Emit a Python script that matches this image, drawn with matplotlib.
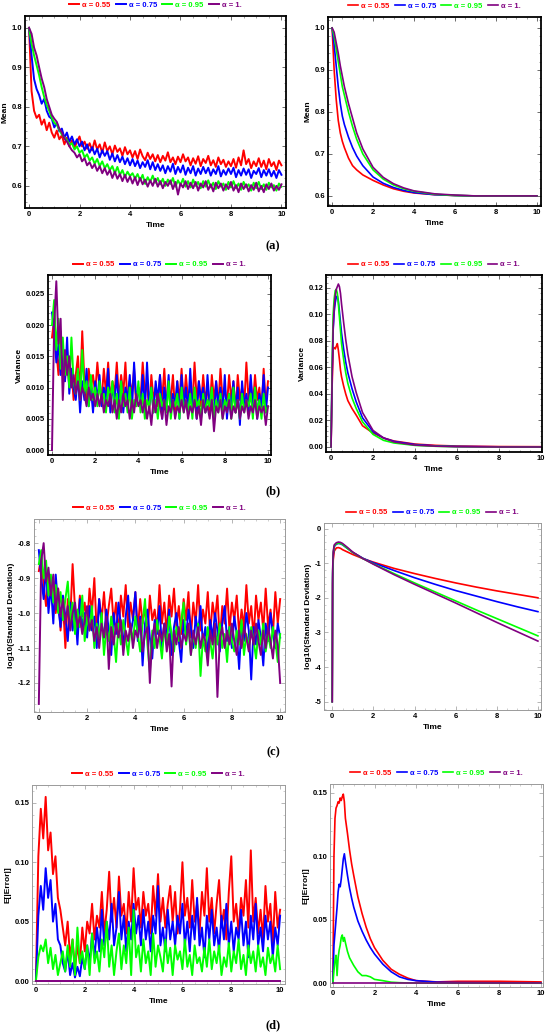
import numpy as np
import matplotlib
matplotlib.use("Agg")
import matplotlib.pyplot as plt
from matplotlib.ticker import AutoMinorLocator

plt.rcParams["font.family"] = ["Liberation Sans", "DejaVu Sans"]
plt.rcParams["axes.unicode_minus"] = False

# ---- data ----
labels = ["\u03b1 = 0.55", "\u03b1 = 0.75", "\u03b1 = 0.95", "\u03b1 = 1."]
colors = ["#ff0000", "#0000ff", "#00ff00", "#800080"]

t = np.linspace(0, 10, 101)

# (a) simulated mean
mean_red = [1.000, 0.840, 0.790, 0.772, 0.780, 0.755, 0.768, 0.741, 0.760, 0.735, 0.722,
            0.740, 0.718, 0.728, 0.705, 0.722, 0.700, 0.715, 0.696, 0.712, 0.725,
            0.700, 0.712, 0.694, 0.708, 0.690, 0.715, 0.692, 0.705, 0.684, 0.710,
            0.688, 0.700, 0.680, 0.702, 0.686, 0.695, 0.676, 0.698, 0.680, 0.690,
            0.672, 0.688, 0.668, 0.692, 0.675, 0.665, 0.684, 0.668, 0.680, 0.662,
            0.678, 0.660, 0.676, 0.664, 0.685, 0.660, 0.672, 0.655, 0.674, 0.660,
            0.680, 0.662, 0.672, 0.652, 0.670, 0.656, 0.675, 0.650, 0.668, 0.658,
            0.676, 0.652, 0.665, 0.648, 0.672, 0.655, 0.666, 0.648, 0.662, 0.650,
            0.668, 0.646, 0.672, 0.652, 0.690, 0.655, 0.668, 0.645, 0.662, 0.650,
            0.670, 0.648, 0.664, 0.642, 0.668, 0.650, 0.660, 0.640, 0.664, 0.652]
mean_blue = [1.000, 0.930, 0.870, 0.845, 0.830, 0.808, 0.820, 0.790, 0.775, 0.770, 0.748,
             0.760, 0.738, 0.745, 0.722, 0.735, 0.712, 0.725, 0.705, 0.718, 0.700,
             0.712, 0.690, 0.705, 0.684, 0.698, 0.680, 0.694, 0.672, 0.690, 0.676,
             0.688, 0.666, 0.682, 0.662, 0.678, 0.660, 0.674, 0.655, 0.670, 0.652,
             0.668, 0.650, 0.664, 0.645, 0.660, 0.648, 0.665, 0.642, 0.660, 0.640,
             0.655, 0.638, 0.652, 0.632, 0.650, 0.636, 0.656, 0.630, 0.648, 0.634,
             0.652, 0.628, 0.646, 0.632, 0.650, 0.626, 0.644, 0.630, 0.648, 0.632,
             0.646, 0.626, 0.642, 0.630, 0.650, 0.624, 0.640, 0.628, 0.644, 0.630,
             0.646, 0.622, 0.640, 0.626, 0.644, 0.628, 0.642, 0.620, 0.638, 0.630,
             0.645, 0.622, 0.640, 0.626, 0.642, 0.624, 0.638, 0.620, 0.640, 0.628]
mean_green = [1.000, 0.960, 0.930, 0.905, 0.880, 0.850, 0.825, 0.805, 0.790, 0.772, 0.760,
              0.755, 0.742, 0.730, 0.722, 0.716, 0.704, 0.708, 0.692, 0.700, 0.684,
              0.690, 0.672, 0.680, 0.664, 0.672, 0.656, 0.668, 0.650, 0.662, 0.645,
              0.655, 0.640, 0.650, 0.632, 0.648, 0.628, 0.640, 0.622, 0.636, 0.625,
              0.632, 0.618, 0.630, 0.614, 0.628, 0.605, 0.622, 0.610, 0.626, 0.608,
              0.620, 0.604, 0.618, 0.600, 0.616, 0.605, 0.620, 0.598, 0.614, 0.602,
              0.618, 0.598, 0.612, 0.596, 0.616, 0.600, 0.610, 0.594, 0.612, 0.598,
              0.614, 0.596, 0.608, 0.592, 0.612, 0.598, 0.606, 0.590, 0.610, 0.596,
              0.612, 0.594, 0.606, 0.590, 0.610, 0.596, 0.604, 0.588, 0.608, 0.594,
              0.610, 0.592, 0.604, 0.590, 0.608, 0.596, 0.602, 0.588, 0.606, 0.598]
mean_purple = [1.000, 0.985, 0.950, 0.930, 0.900, 0.872, 0.850, 0.820, 0.800, 0.780, 0.770,
               0.762, 0.745, 0.735, 0.720, 0.712, 0.700, 0.690, 0.684, 0.672, 0.680,
               0.662, 0.670, 0.652, 0.660, 0.645, 0.655, 0.638, 0.650, 0.632, 0.645,
               0.628, 0.640, 0.620, 0.636, 0.618, 0.630, 0.612, 0.628, 0.610, 0.624,
               0.606, 0.622, 0.602, 0.620, 0.604, 0.616, 0.598, 0.614, 0.600, 0.618,
               0.598, 0.612, 0.594, 0.610, 0.600, 0.614, 0.592, 0.610, 0.578, 0.606,
               0.596, 0.612, 0.592, 0.608, 0.594, 0.610, 0.588, 0.606, 0.596, 0.612,
               0.590, 0.604, 0.586, 0.608, 0.594, 0.606, 0.588, 0.604, 0.592, 0.610,
               0.588, 0.602, 0.584, 0.606, 0.592, 0.604, 0.586, 0.602, 0.590, 0.608,
               0.586, 0.600, 0.584, 0.604, 0.592, 0.606, 0.588, 0.600, 0.590, 0.604]

# (a) theoretical mean
t_mean = [0, 0.1, 0.2, 0.3, 0.4, 0.5, 0.6, 0.8, 1.0, 1.2, 1.5, 2.0, 2.5, 3.0, 3.5, 4.0,
          5.0, 6.0, 7.0, 8.0, 9.0, 10.0]
mth_red = [1.0, 0.90, 0.83, 0.78, 0.75, 0.73, 0.715, 0.69, 0.672, 0.662, 0.650, 0.637,
           0.626, 0.617, 0.611, 0.607, 0.603, 0.601, 0.600, 0.600, 0.600, 0.600]
mth_blue = [1.0, 0.96, 0.91, 0.86, 0.82, 0.79, 0.77, 0.74, 0.715, 0.695, 0.672, 0.645,
            0.630, 0.620, 0.613, 0.608, 0.603, 0.601, 0.600, 0.600, 0.600, 0.600]
mth_green = [1.0, 0.98, 0.95, 0.92, 0.89, 0.86, 0.84, 0.80, 0.765, 0.735, 0.70, 0.662,
             0.640, 0.626, 0.617, 0.611, 0.604, 0.601, 0.600, 0.600, 0.600, 0.600]
mth_purple = [1.0, 0.99, 0.965, 0.94, 0.91, 0.885, 0.86, 0.82, 0.785, 0.75, 0.712, 0.668,
              0.644, 0.629, 0.619, 0.612, 0.605, 0.602, 0.600, 0.600, 0.600, 0.600]

# (b) simulated variance
var_red = [0.018, 0.021, 0.016, 0.012, 0.019, 0.014, 0.011, 0.016, 0.010, 0.013, 0.008,
           0.012, 0.015, 0.009, 0.019, 0.011, 0.008, 0.013, 0.010, 0.012, 0.009,
           0.014, 0.010, 0.008, 0.013, 0.009, 0.014, 0.008, 0.011, 0.009, 0.014,
           0.008, 0.012, 0.009, 0.014, 0.007, 0.011, 0.009, 0.013, 0.007, 0.010,
           0.008, 0.014, 0.009, 0.011, 0.006, 0.012, 0.008, 0.010, 0.007, 0.012,
           0.008, 0.013, 0.007, 0.010, 0.008, 0.012, 0.006, 0.011, 0.008, 0.013,
           0.007, 0.012, 0.008, 0.010, 0.007, 0.014, 0.008, 0.011, 0.007, 0.012,
           0.008, 0.010, 0.006, 0.012, 0.008, 0.011, 0.007, 0.013, 0.008, 0.010,
           0.007, 0.012, 0.008, 0.011, 0.006, 0.012, 0.008, 0.010, 0.007, 0.014,
           0.008, 0.011, 0.007, 0.012, 0.008, 0.010, 0.006, 0.013, 0.007, 0.011]
var_blue = [0.022, 0.019, 0.014, 0.017, 0.012, 0.015, 0.011, 0.018, 0.009, 0.013, 0.010,
            0.008, 0.012, 0.006, 0.011, 0.008, 0.013, 0.007, 0.010, 0.006, 0.011,
            0.008, 0.012, 0.007, 0.010, 0.008, 0.013, 0.006, 0.010, 0.008, 0.012,
            0.007, 0.011, 0.006, 0.010, 0.008, 0.012, 0.006, 0.014, 0.008, 0.010,
            0.007, 0.012, 0.006, 0.014, 0.007, 0.010, 0.006, 0.011, 0.008, 0.012,
            0.005, 0.010, 0.007, 0.012, 0.006, 0.009, 0.007, 0.011, 0.005, 0.012,
            0.007, 0.010, 0.006, 0.013, 0.007, 0.009, 0.005, 0.011, 0.008, 0.010,
            0.006, 0.012, 0.007, 0.009, 0.005, 0.011, 0.007, 0.010, 0.006, 0.012,
            0.005, 0.009, 0.007, 0.011, 0.006, 0.010, 0.004, 0.011, 0.007, 0.009,
            0.006, 0.012, 0.007, 0.010, 0.005, 0.009, 0.007, 0.012, 0.006, 0.010]
var_green = [0.020, 0.024, 0.016, 0.021, 0.013, 0.018, 0.012, 0.015, 0.010, 0.018, 0.011,
             0.009, 0.013, 0.008, 0.016, 0.009, 0.011, 0.007, 0.012, 0.008, 0.010,
             0.007, 0.011, 0.008, 0.009, 0.006, 0.010, 0.008, 0.011, 0.006, 0.009,
             0.005, 0.011, 0.007, 0.009, 0.006, 0.010, 0.005, 0.008, 0.007, 0.011,
             0.006, 0.009, 0.005, 0.008, 0.007, 0.010, 0.006, 0.008, 0.005, 0.009,
             0.007, 0.008, 0.006, 0.011, 0.005, 0.008, 0.007, 0.009, 0.005, 0.010,
             0.006, 0.008, 0.006, 0.009, 0.005, 0.010, 0.007, 0.008, 0.005, 0.009,
             0.006, 0.008, 0.007, 0.010, 0.005, 0.008, 0.006, 0.009, 0.005, 0.008,
             0.007, 0.009, 0.005, 0.010, 0.006, 0.008, 0.005, 0.009, 0.006, 0.008,
             0.007, 0.009, 0.005, 0.010, 0.006, 0.008, 0.005, 0.009, 0.006, 0.007]
var_purple = [0.000, 0.020, 0.027, 0.017, 0.021, 0.008, 0.016, 0.012, 0.015, 0.010, 0.012,
              0.009, 0.011, 0.008, 0.010, 0.009, 0.007, 0.010, 0.008, 0.009, 0.007,
              0.009, 0.007, 0.009, 0.006, 0.008, 0.007, 0.009, 0.006, 0.008, 0.005,
              0.008, 0.006, 0.009, 0.007, 0.008, 0.005, 0.008, 0.006, 0.009, 0.007,
              0.008, 0.006, 0.008, 0.005, 0.007, 0.004, 0.008, 0.006, 0.009, 0.007,
              0.005, 0.008, 0.004, 0.007, 0.006, 0.008, 0.005, 0.007, 0.006, 0.008,
              0.006, 0.008, 0.005, 0.007, 0.006, 0.008, 0.005, 0.007, 0.004, 0.008,
              0.006, 0.007, 0.005, 0.008, 0.003, 0.007, 0.006, 0.008, 0.005, 0.007,
              0.006, 0.008, 0.005, 0.007, 0.006, 0.008, 0.005, 0.007, 0.006, 0.008,
              0.005, 0.007, 0.006, 0.008, 0.005, 0.007, 0.006, 0.007, 0.004, 0.007]

# (b) theoretical variance
t_var = [0, 0.05, 0.1, 0.15, 0.2, 0.25, 0.3, 0.35, 0.4, 0.45, 0.5, 0.6, 0.7, 0.8, 1.0,
         1.2, 1.5, 2.0, 2.5, 3.0, 4.0, 5.0, 6.0, 8.0, 10.0]
vth_red = [0, 0.045, 0.074, 0.075, 0.074, 0.076, 0.078, 0.073, 0.066, 0.058, 0.053, 0.046,
           0.040, 0.035, 0.029, 0.024, 0.016, 0.0105, 0.0068, 0.0045, 0.0022, 0.0012,
           0.0007, 0.0003, 0.0002]
vth_blue = [0, 0.055, 0.088, 0.102, 0.109, 0.113, 0.114, 0.110, 0.102, 0.094, 0.086, 0.074,
            0.064, 0.056, 0.044, 0.034, 0.022, 0.0115, 0.0068, 0.0042, 0.0018, 0.0008,
            0.0004, 0.0001, 0.0]
vth_green = [0, 0.06, 0.10, 0.112, 0.118, 0.119, 0.116, 0.108, 0.098, 0.088, 0.078, 0.066,
             0.056, 0.048, 0.037, 0.029, 0.019, 0.0095, 0.005, 0.003, 0.0012, 0.0005,
             0.0002, 0.0, 0.0]
vth_purple = [0, 0.05, 0.09, 0.105, 0.114, 0.119, 0.121, 0.123, 0.121, 0.116, 0.108, 0.094,
              0.081, 0.070, 0.053, 0.041, 0.026, 0.0125, 0.0068, 0.0038, 0.0014, 0.0006,
              0.0002, 0.0, 0.0]

# (c) simulated log10 standard deviation
lsd_red = [-0.88, -0.84, -0.92, -0.98, -0.89, -0.95, -0.91, -1.00, -0.93, -1.05, -0.97,
           -1.10, -0.96, -1.02, -0.86, -0.99, -1.04, -0.95, -1.01, -0.97, -1.05,
           -0.93, -1.00, -0.90, -1.06, -0.96, -1.02, -0.94, -1.04, -0.98, -0.93,
           -1.03, -0.97, -1.06, -0.95, -1.01, -0.92, -1.04, -0.97, -1.02, -0.94,
           -1.05, -0.96, -1.03, -0.98, -1.07, -0.95, -1.02, -0.99, -1.05, -0.92,
           -1.03, -0.97, -1.06, -0.95, -1.01, -0.93, -1.04, -0.98, -1.06, -0.96,
           -1.02, -0.94, -1.07, -0.97, -1.03, -0.92, -1.05, -0.99, -1.03, -0.94,
           -1.06, -0.97, -1.02, -0.95, -1.08, -0.98, -1.03, -0.93, -1.05, -0.97,
           -1.02, -0.95, -1.06, -0.99, -1.04, -0.92, -1.03, -0.98, -1.07, -0.95,
           -1.02, -0.97, -1.05, -0.93, -1.04, -0.99, -1.06, -0.94, -1.03, -0.96]
lsd_blue = [-0.82, -0.90, -0.96, -0.87, -1.00, -0.92, -1.03, -0.89, -0.98, -1.04, -0.95,
            -1.01, -1.08, -0.97, -1.05, -0.99, -1.09, -0.96, -1.04, -1.00, -1.07,
            -0.98, -1.05, -1.01, -1.10, -0.96, -1.03, -1.07, -0.99, -1.05, -1.12,
            -1.00, -1.06, -0.97, -1.04, -1.09, -1.01, -0.95, -1.06, -1.02, -0.94,
            -1.08, -1.01, -1.15, -1.03, -0.99, -1.07, -1.13, -1.02, -1.06, -0.98,
            -1.10, -1.03, -1.07, -0.99, -1.12, -1.04, -1.00, -1.08, -1.14, -1.02,
            -1.07, -0.99, -1.04, -1.10, -1.01, -1.06, -0.98, -1.09, -1.04, -1.12,
            -1.02, -1.07, -1.00, -1.05, -1.11, -1.03, -0.98, -1.08, -1.04, -1.10,
            -1.01, -1.06, -1.16, -1.03, -1.08, -1.00, -1.05, -1.19, -1.04, -1.09,
            -1.02, -1.07, -1.15, -1.03, -1.08, -1.00, -1.06, -1.10, -1.03, -1.07]
lsd_green = [-0.86, -0.82, -0.90, -0.85, -0.95, -0.89, -0.97, -0.92, -1.00, -0.94, -1.02,
             -0.96, -0.91, -1.03, -0.97, -1.06, -0.99, -1.04, -0.95, -1.08, -1.01,
             -1.05, -0.98, -1.10, -1.03, -1.07, -1.00, -1.12, -1.04, -1.08, -1.01,
             -1.06, -1.14, -1.03, -1.09, -1.02, -1.07, -1.12, -1.04, -1.08, -1.01,
             -1.06, -1.11, -1.03, -0.96, -1.09, -1.17, -1.05, -1.10, -1.02, -1.07,
             -1.13, -1.04, -1.09, -1.01, -1.06, -1.11, -1.04, -1.08, -1.02, -0.97,
             -1.09, -1.04, -1.12, -1.06, -1.10, -1.03, -1.18, -1.07, -1.11, -1.04,
             -1.08, -1.13, -1.05, -1.09, -1.03, -1.10, -1.06, -1.14, -1.04, -1.08,
             -1.11, -1.05, -1.09, -1.02, -1.12, -1.06, -1.10, -1.04, -1.08, -1.13,
             -1.05, -1.09, -1.03, -1.11, -1.06, -1.10, -1.04, -1.08, -1.14, -1.06]
lsd_purple = [-1.26, -0.85, -0.80, -0.91, -0.87, -0.95, -0.89, -0.99, -0.93, -1.01, -0.96,
              -1.03, -0.98, -1.05, -1.00, -0.97, -1.04, -1.01, -1.06, -1.02, -0.98,
              -1.05, -1.02, -1.08, -1.04, -1.10, -1.03, -1.07, -1.01, -1.16, -1.04,
              -1.09, -1.03, -1.07, -1.02, -1.12, -1.05, -1.08, -1.03, -1.10, -1.05,
              -1.07, -1.02, -1.11, -1.06, -1.04, -1.20, -1.07, -1.03, -1.10, -1.05,
              -1.08, -1.03, -1.11, -1.06, -1.21, -1.05, -1.09, -1.04, -1.10, -1.06,
              -1.08, -1.03, -1.12, -1.05, -1.09, -1.04, -1.10, -1.06, -1.08, -1.15,
              -1.05, -1.09, -1.03, -1.24, -1.07, -1.04, -1.10, -1.05, -1.09, -1.03,
              -1.08, -1.12, -1.05, -1.10, -1.04, -1.07, -1.11, -1.05, -1.09, -1.03,
              -1.08, -1.12, -1.05, -1.10, -1.04, -1.08, -1.13, -1.05, -1.09, -1.20]

# (c) theoretical log10 standard deviation
t_lsd = [0, 0.02, 0.05, 0.1, 0.2, 0.3, 0.4, 0.5, 0.75, 1.0, 1.5, 2.0, 3.0, 4.0, 5.0, 6.0,
         7.0, 8.0, 9.0, 10.0]
lth_red = [-5.0, -1.6, -0.9, -0.65, -0.56, -0.55, -0.57, -0.61, -0.68, -0.75, -0.87, -0.97,
           -1.15, -1.30, -1.44, -1.57, -1.69, -1.80, -1.90, -2.0]
lth_blue = [-5.0, -1.4, -0.75, -0.52, -0.45, -0.43, -0.44, -0.47, -0.58, -0.69, -0.86, -0.99,
            -1.21, -1.42, -1.61, -1.79, -1.95, -2.11, -2.26, -2.40]
lth_green = [-5.0, -1.3, -0.7, -0.5, -0.44, -0.42, -0.43, -0.46, -0.58, -0.69, -0.87, -1.02,
             -1.30, -1.57, -1.83, -2.09, -2.35, -2.60, -2.85, -3.10]
lth_purple = [-5.0, -1.2, -0.65, -0.47, -0.41, -0.39, -0.40, -0.43, -0.55, -0.68, -0.87, -1.03,
              -1.33, -1.61, -1.88, -2.15, -2.43, -2.71, -2.98, -3.25]

# (d) simulated E[|Error|]
err_red = [0.000, 0.105, 0.145, 0.120, 0.155, 0.110, 0.125, 0.090, 0.105, 0.070, 0.060,
           0.045, 0.030, 0.050, 0.020, 0.035, 0.010, 0.030, 0.015, 0.045, 0.025,
           0.050, 0.040, 0.065, 0.035, 0.055, 0.045, 0.075, 0.040, 0.060, 0.092,
           0.050, 0.070, 0.045, 0.088, 0.055, 0.065, 0.040, 0.075, 0.050, 0.095,
           0.060, 0.070, 0.045, 0.075, 0.055, 0.065, 0.040, 0.080, 0.055, 0.090,
           0.050, 0.070, 0.045, 0.065, 0.080, 0.050, 0.075, 0.040, 0.060, 0.100,
           0.055, 0.070, 0.045, 0.085, 0.050, 0.065, 0.040, 0.075, 0.055, 0.095,
           0.050, 0.070, 0.040, 0.065, 0.085, 0.045, 0.060, 0.035, 0.075, 0.105,
           0.050, 0.065, 0.040, 0.070, 0.055, 0.085, 0.045, 0.110, 0.050, 0.070,
           0.040, 0.060, 0.035, 0.080, 0.050, 0.065, 0.030, 0.075, 0.045, 0.060]
err_blue = [0.000, 0.055, 0.080, 0.060, 0.095, 0.070, 0.085, 0.050, 0.065, 0.035, 0.030,
            0.015, 0.008, 0.025, 0.005, 0.015, 0.003, 0.012, 0.004, 0.020, 0.010,
            0.030, 0.015, 0.040, 0.020, 0.045, 0.025, 0.060, 0.030, 0.050, 0.035,
            0.065, 0.030, 0.045, 0.075, 0.035, 0.055, 0.025, 0.050, 0.035, 0.065,
            0.040, 0.055, 0.030, 0.060, 0.035, 0.050, 0.025, 0.055, 0.040, 0.080,
            0.030, 0.045, 0.025, 0.060, 0.035, 0.050, 0.030, 0.055, 0.040, 0.065,
            0.030, 0.050, 0.025, 0.055, 0.035, 0.070, 0.030, 0.045, 0.020, 0.055,
            0.035, 0.060, 0.030, 0.045, 0.025, 0.055, 0.035, 0.065, 0.030, 0.050,
            0.025, 0.045, 0.035, 0.060, 0.030, 0.050, 0.020, 0.055, 0.035, 0.065,
            0.030, 0.045, 0.025, 0.055, 0.035, 0.050, 0.020, 0.045, 0.030, 0.055]
err_green = [0.000, 0.020, 0.030, 0.025, 0.035, 0.015, 0.028, 0.010, 0.022, 0.005, 0.015,
             0.025, 0.008, 0.030, 0.012, 0.035, 0.005, 0.045, 0.015, 0.025, 0.010,
             0.030, 0.005, 0.040, 0.015, 0.025, 0.008, 0.035, 0.020, 0.050, 0.012,
             0.030, 0.005, 0.025, 0.040, 0.010, 0.030, 0.015, 0.045, 0.005, 0.060,
             0.020, 0.030, 0.008, 0.035, 0.015, 0.025, 0.005, 0.040, 0.012, 0.030,
             0.020, 0.008, 0.035, 0.015, 0.028, 0.005, 0.030, 0.018, 0.025, 0.010,
             0.035, 0.012, 0.022, 0.005, 0.030, 0.015, 0.020, 0.008, 0.028, 0.012,
             0.035, 0.010, 0.025, 0.015, 0.030, 0.005, 0.020, 0.012, 0.032, 0.008,
             0.025, 0.015, 0.035, 0.010, 0.022, 0.005, 0.030, 0.015, 0.025, 0.008,
             0.030, 0.012, 0.020, 0.005, 0.028, 0.015, 0.022, 0.008, 0.030, 0.010]
t_zero = [0, 10]
err_purple = [0.0, 0.0]

# (d) theoretical E[|Error|]
t_err = [0, 0.05, 0.1, 0.15, 0.2, 0.25, 0.3, 0.35, 0.4, 0.45, 0.5, 0.55, 0.6, 0.7, 0.8,
         0.9, 1.0, 1.2, 1.4, 1.6, 1.8, 2.0, 2.4, 2.8, 3.2, 3.6, 4.0, 5.0, 6.0, 8.0, 10.0]
eth_red = [0, 0.10, 0.13, 0.138, 0.140, 0.143, 0.142, 0.146, 0.144, 0.147, 0.149, 0.143,
           0.130, 0.118, 0.105, 0.094, 0.085, 0.068, 0.055, 0.044, 0.035, 0.028, 0.018,
           0.011, 0.007, 0.004, 0.002, 0.001, 0.0015, 0.0015, 0.001]
eth_blue = [0, 0.030, 0.040, 0.050, 0.060, 0.072, 0.078, 0.076, 0.082, 0.090, 0.098, 0.102,
            0.096, 0.085, 0.075, 0.067, 0.060, 0.049, 0.041, 0.034, 0.028, 0.023, 0.015,
            0.009, 0.005, 0.003, 0.002, 0.0008, 0.0005, 0.0003, 0.0002]
eth_green = [0, 0.010, 0.018, 0.022, 0.006, 0.020, 0.026, 0.030, 0.036, 0.038, 0.033, 0.036,
             0.032, 0.025, 0.020, 0.017, 0.014, 0.009, 0.006, 0.006, 0.005, 0.003, 0.002,
             0.0008, 0.0004, 0.0002, 0.0001, 0.0, 0.0, 0.0, 0.0]
eth_purple = [0.0, 0.0]

# ---- figure ----
W, H = 550, 1036
fig = plt.figure(figsize=(5.5, 10.36), dpi=100)


def make_ax(x0, y0, x1, y1):
    return fig.add_axes([x0 / W, 1 - y1 / H, (x1 - x0) / W, (y1 - y0) / H])


def style(ax, ylabel, yticks, yfmt, xlim, ylim, dark):
    ax.set_xlim(*xlim)
    ax.set_ylim(*ylim)
    ax.set_xticks([0, 2, 4, 6, 8, 10])
    ax.set_xticklabels(["0", "2", "4", "6", "8", "10"])
    ax.set_yticks(yticks)
    ax.set_yticklabels([yfmt.format(v).replace("\u2212", "-") for v in yticks])
    ax.xaxis.set_minor_locator(AutoMinorLocator(4))
    ax.yaxis.set_minor_locator(AutoMinorLocator(5))
    fc = "black" if dark else "#9a9a9a"
    for s in ax.spines.values():
        s.set_color(fc)
        s.set_linewidth(1.3 if dark else 0.7)
    ax.tick_params(which="both", direction="in", top=True, right=True,
                   labelsize=5.5, color="#555555" if dark else "#aaaaaa")
    ax.tick_params(which="major", length=3, width=0.6, pad=2)
    ax.tick_params(which="minor", length=1.5, width=0.4)
    for lab in ax.get_xticklabels() + ax.get_yticklabels():
        lab.set_fontweight("bold")
    ax.set_xlabel("Time", fontsize=6, fontweight="bold", labelpad=3)
    ax.set_ylabel(ylabel, fontsize=6, fontweight="bold", labelpad=2)
    leg = ax.legend(loc="lower center", bbox_to_anchor=(0.5, 1.02), ncol=4,
                    frameon=False, fontsize=5.5, handlelength=1.3, handletextpad=0.4,
                    columnspacing=0.7, borderaxespad=0.0)
    for txt, c in zip(leg.get_texts(), colors):
        txt.set_color(c)
        txt.set_fontweight("bold")


def draw(ax, xs, series, lw):
    for (x, y), c, lab in zip(zip(xs, series), colors, labels):
        ax.plot(x, y, color=c, lw=lw, label=lab)


# (a)
ax = make_ax(25, 16, 286, 208)
draw(ax, [t, t, t, t], [mean_red, mean_blue, mean_green, mean_purple], 1.4)
style(ax, "Mean", [0.6, 0.7, 0.8, 0.9, 1.0], "{:.1f}", (-0.16, 10.18), (0.544, 1.03), True)

ax = make_ax(328, 17, 541, 206)
draw(ax, [t_mean] * 4, [mth_red, mth_blue, mth_green, mth_purple], 1.2)
style(ax, "Mean", [0.6, 0.7, 0.8, 0.9, 1.0], "{:.1f}", (-0.2, 10.2), (0.576, 1.026), True)

# (b)
ax = make_ax(48, 275, 271, 455)
draw(ax, [t, t, t, t], [var_red, var_blue, var_green, var_purple], 1.4)
style(ax, "Variance", [0.0, 0.005, 0.010, 0.015, 0.020, 0.025], "{:.3f}",
      (-0.185, 10.14), (-0.0008, 0.028), True)

ax = make_ax(326, 275, 542, 452)
draw(ax, [t_var] * 4, [vth_red, vth_blue, vth_green, vth_purple], 1.2)
style(ax, "Variance", [0.0, 0.02, 0.04, 0.06, 0.08, 0.10, 0.12], "{:.2f}",
      (-0.24, 10.05), (-0.0038, 0.1298), True)

# (c)
ax = make_ax(34, 519, 285, 712)
draw(ax, [t, t, t, t], [lsd_red, lsd_blue, lsd_green, lsd_purple], 1.4)
style(ax, "log10(Standard Deviation)", [-1.2, -1.1, -1.0, -0.9, -0.8], "{:.1f}",
      (-0.2, 10.2), (-1.283, -0.731), False)

ax = make_ax(324, 523, 541, 710)
draw(ax, [t_lsd] * 4, [lth_red, lth_blue, lth_green, lth_purple], 1.2)
style(ax, "log10(Standard Deviation)", [-5, -4, -3, -2, -1, 0], "{:d}",
      (-0.4, 10.15), (-5.24, 0.16), False)

# (d)
ax = make_ax(32, 785, 285, 984)
draw(ax, [t, t, t, t_zero], [err_red, err_blue, err_green, err_purple], 1.4)
style(ax, "E[|Error|]", [0.0, 0.05, 0.10, 0.15], "{:.2f}",
      (-0.16, 10.2), (-0.0025, 0.165), False)

ax = make_ax(330, 784, 543, 987)
draw(ax, [t_err, t_err, t_err, t_zero], [eth_red, eth_blue, eth_green, eth_purple], 1.2)
style(ax, "E[|Error|]", [0.0, 0.05, 0.10, 0.15], "{:.2f}",
      (-0.14, 10.1), (-0.003, 0.157), False)

# panel letters
for lab, y in [("(a)", 246), ("(b)", 491), ("(c)", 752), ("(d)", 1025)]:
    fig.text(273 / W, 1 - y / H, lab, ha="center", va="center", fontsize=9,
             fontweight="bold", family=["Liberation Serif", "DejaVu Serif"])

fig.savefig("out.png", dpi=100, facecolor="white")
